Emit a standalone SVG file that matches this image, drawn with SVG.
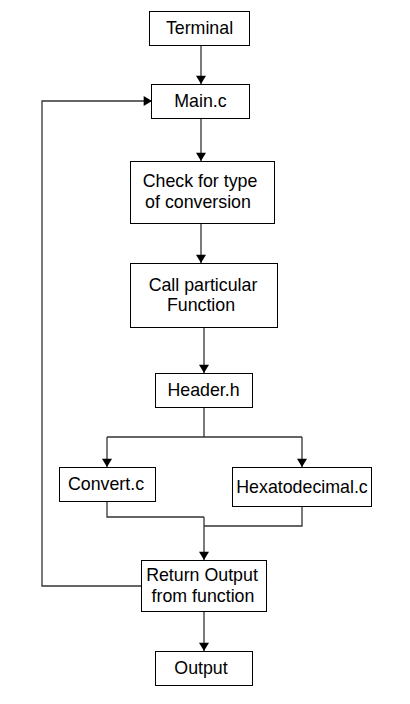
<svg xmlns="http://www.w3.org/2000/svg" width="410" height="704" viewBox="0 0 410 704">
<style>
.box{fill:#fff;stroke:#000;stroke-width:1}
.t{font-family:"Liberation Sans",Arial,sans-serif;font-size:17.8px;fill:#000;text-anchor:middle;dominant-baseline:central}
.c{fill:none;stroke:#333;stroke-width:1.3}
</style>
<defs>
<marker id="a" viewBox="0 0 10 12" refX="10" refY="6" markerWidth="12" markerHeight="10" markerUnits="userSpaceOnUse" orient="auto">
<path d="M0,0 L10,6 L0,12 z" fill="#000"/>
</marker>
</defs>
<rect width="410" height="704" fill="#fff"/>
<g id="connectors">
<path class="c" d="M201,45 V84" marker-end="url(#a)"/>
<path class="c" d="M201,118 V161" marker-end="url(#a)"/>
<path class="c" d="M201,223 V263" marker-end="url(#a)"/>
<path class="c" d="M204,327 V373" marker-end="url(#a)"/>
<path class="c" d="M204,407 V437 M107,437 H302"/>
<path class="c" d="M107,437 V467" marker-end="url(#a)"/>
<path class="c" d="M302,437 V467" marker-end="url(#a)"/>
<path class="c" d="M107,501 V517 H204 M302,506 V526 H204"/>
<path class="c" d="M204,517 V560" marker-end="url(#a)"/>
<path class="c" d="M204,611 V651" marker-end="url(#a)"/>
<path class="c" d="M141,586 H42 V101 H152" marker-end="url(#a)"/>
</g>
<g id="terminal"><rect class="box" x="149.5" y="11.5" width="100" height="34"/><text class="t" x="199.5" y="28">Terminal</text></g>
<g id="main"><rect class="box" x="151.5" y="84.5" width="98" height="34"/><text class="t" x="200.5" y="101">Main.c</text></g>
<g id="check"><rect class="box" x="130.5" y="161.5" width="144" height="62"/><text class="t" x="200" y="181">Check for type</text><text class="t" x="198" y="202">of conversion</text></g>
<g id="call"><rect class="box" x="130.5" y="263.5" width="147" height="64"/><text class="t" x="203" y="285">Call particular</text><text class="t" x="201" y="305">Function</text></g>
<g id="header"><rect class="box" x="155.5" y="373.5" width="97" height="34"/><text class="t" x="203.5" y="390">Header.h</text></g>
<g id="convert"><rect class="box" x="59.5" y="467.5" width="96" height="34"/><text class="t" x="106" y="484">Convert.c</text></g>
<g id="hexa"><rect class="box" x="232.5" y="467.5" width="139" height="39"/><text class="t" x="302" y="487">Hexatodecimal.c</text></g>
<g id="return"><rect class="box" x="141.5" y="560.5" width="125" height="51"/><text class="t" x="202" y="575">Return Output</text><text class="t" x="203" y="596">from function</text></g>
<g id="output"><rect class="box" x="155.5" y="651.5" width="97" height="34"/><text class="t" x="201" y="668">Output</text></g>
</svg>
